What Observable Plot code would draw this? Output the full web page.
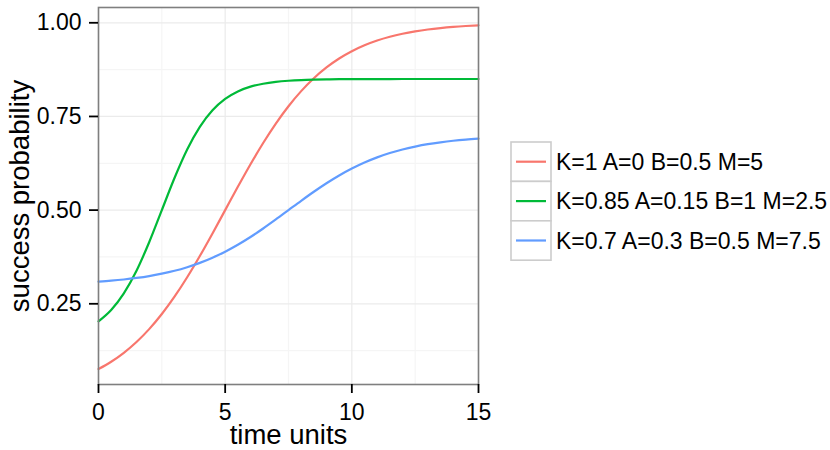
<!DOCTYPE html>
<html>
<head>
<meta charset="utf-8">
<script src="https://cdn.jsdelivr.net/npm/d3@7"></script>
<script src="https://cdn.jsdelivr.net/npm/@observablehq/plot@0.6"></script>
<style>
  html, body { margin: 0; padding: 0; background: white; }
  #wrap { position: relative; width: 830px; height: 450px; font-family: "Liberation Sans", Arial, sans-serif; }
</style>
</head>
<body>
<div id="wrap"></div>
<script>
// ---- data ----
const seriesLabels = ["K=1 A=0 B=0.5 M=5", "K=0.85 A=0.15 B=1 M=2.5", "K=0.7 A=0.3 B=0.5 M=7.5"];
const seriesColors = ["#F8766D", "#00BA38", "#619CFF"];
const timeUnits = [0,0.5,1,1.5,2,2.5,3,3.5,4,4.5,5,5.5,6,6.5,7,7.5,8,8.5,9,9.5,10,10.5,11,11.5,12,12.5,13,13.5,14,14.5,15];
const redValues = [0.0759,0.0953,0.1192,0.1480,0.1824,0.2227,0.2689,0.3208,0.3775,0.4378,0.5000,0.5622,0.6225,0.6792,0.7311,0.7773,0.8176,0.8520,0.8808,0.9047,0.9241,0.9399,0.9526,0.9627,0.9707,0.9770,0.9820,0.9859,0.9890,0.9914,0.9933];
const greenValues = [0.2031,0.2334,0.2777,0.3382,0.4143,0.5000,0.5857,0.6618,0.7223,0.7666,0.7969,0.8168,0.8295,0.8374,0.8423,0.8453,0.8472,0.8483,0.8490,0.8494,0.8496,0.8498,0.8499,0.8499,0.8500,0.8500,0.8500,0.8500,0.8500,0.8500,0.8500];
const blueValues = [0.3092,0.3117,0.3149,0.3190,0.3240,0.3304,0.3381,0.3477,0.3592,0.3730,0.3891,0.4076,0.4283,0.4510,0.4751,0.5000,0.5249,0.5490,0.5717,0.5924,0.6109,0.6270,0.6408,0.6523,0.6619,0.6696,0.6760,0.6810,0.6851,0.6883,0.6908];
const xTicks = [0, 5, 10, 15];
const xMinor = [2.5, 7.5, 12.5];
const yTicks = [0.25, 0.50, 0.75, 1.00];
const yMinor = [0.125, 0.375, 0.625, 0.875];
const xTitle = "time units";
const yTitle = "success probability";

const allValues = [redValues, greenValues, blueValues];
const data = [];
allValues.forEach((vals, s) => {
  vals.forEach((v, i) => data.push({t: timeUnits[i], p: v, series: seriesLabels[s]}));
});

const font = "'Liberation Sans', Arial, sans-serif";

const plot = Plot.plot({
  width: 830,
  height: 450,
  marginLeft: 98,
  marginRight: 352,
  marginTop: 7,
  marginBottom: 66,
  style: {fontFamily: font, fontSize: "23px", color: "black", background: "white"},
  x: {domain: [0, 15]},
  y: {domain: [0.0346, 1.0408]},
  color: {domain: seriesLabels, range: seriesColors},
  marks: [
    Plot.gridX(xMinor, {stroke: "#f5f5f5", strokeOpacity: 1, strokeWidth: 1.2}),
    Plot.gridY(yMinor, {stroke: "#f5f5f5", strokeOpacity: 1, strokeWidth: 1.2}),
    Plot.gridX(xTicks, {stroke: "#ebebeb", strokeOpacity: 1, strokeWidth: 1.2}),
    Plot.gridY(yTicks, {stroke: "#ebebeb", strokeOpacity: 1, strokeWidth: 1.2}),
    Plot.line(data, {x: "t", y: "p", z: "series", stroke: "series", curve: "monotone-x", strokeWidth: 2.2}),
    Plot.frame({stroke: "#7f7f7f", strokeWidth: 1.6}),
    Plot.axisX({ticks: xTicks, tickSize: 9, tickPadding: 10, strokeWidth: 1.8, stroke: "black", label: null, fontSize: 23}),
    Plot.axisY({ticks: yTicks, tickFormat: d3.format(".2f"), tickSize: 9, tickPadding: 8, strokeWidth: 1.8, stroke: "black", label: null, fontSize: 23}),
    Plot.text([xTitle], {frameAnchor: "bottom", lineAnchor: "bottom", textAnchor: "middle", dy: 59, fontSize: 27.5, fill: "black"}),
    Plot.text([yTitle], {frameAnchor: "left", rotate: -90, lineAnchor: "bottom", textAnchor: "middle", dx: -69.5, fontSize: 27.5, fill: "black"})
  ]
});

const wrap = document.getElementById("wrap");
wrap.appendChild(plot);

// ---- legend ----
const legendSvg = d3.create("svg")
  .attr("width", 830)
  .attr("height", 450)
  .style("position", "absolute")
  .style("left", "0px")
  .style("top", "0px")
  .style("pointer-events", "none");

const keyX = 511, keyW = 40, keyTop = 142, keyH = 39.4;
seriesLabels.forEach((lab, i) => {
  const y0 = keyTop + i * keyH;
  const g = legendSvg.append("g");
  g.append("rect")
    .attr("x", keyX).attr("y", y0).attr("width", keyW).attr("height", keyH)
    .attr("fill", "white").attr("stroke", "#cccccc").attr("stroke-width", 1.6);
  g.append("line")
    .attr("x1", keyX + 5).attr("x2", keyX + keyW - 5)
    .attr("y1", y0 + keyH / 2).attr("y2", y0 + keyH / 2)
    .attr("stroke", seriesColors[i]).attr("stroke-width", 2.2);
  g.append("text")
    .attr("x", keyX + keyW + 5)
    .attr("y", y0 + keyH / 2)
    .attr("dy", "0.35em")
    .attr("font-family", font)
    .attr("font-size", 23)
    .attr("fill", "black")
    .text(lab);
});
wrap.appendChild(legendSvg.node());
</script>
</body>
</html>
